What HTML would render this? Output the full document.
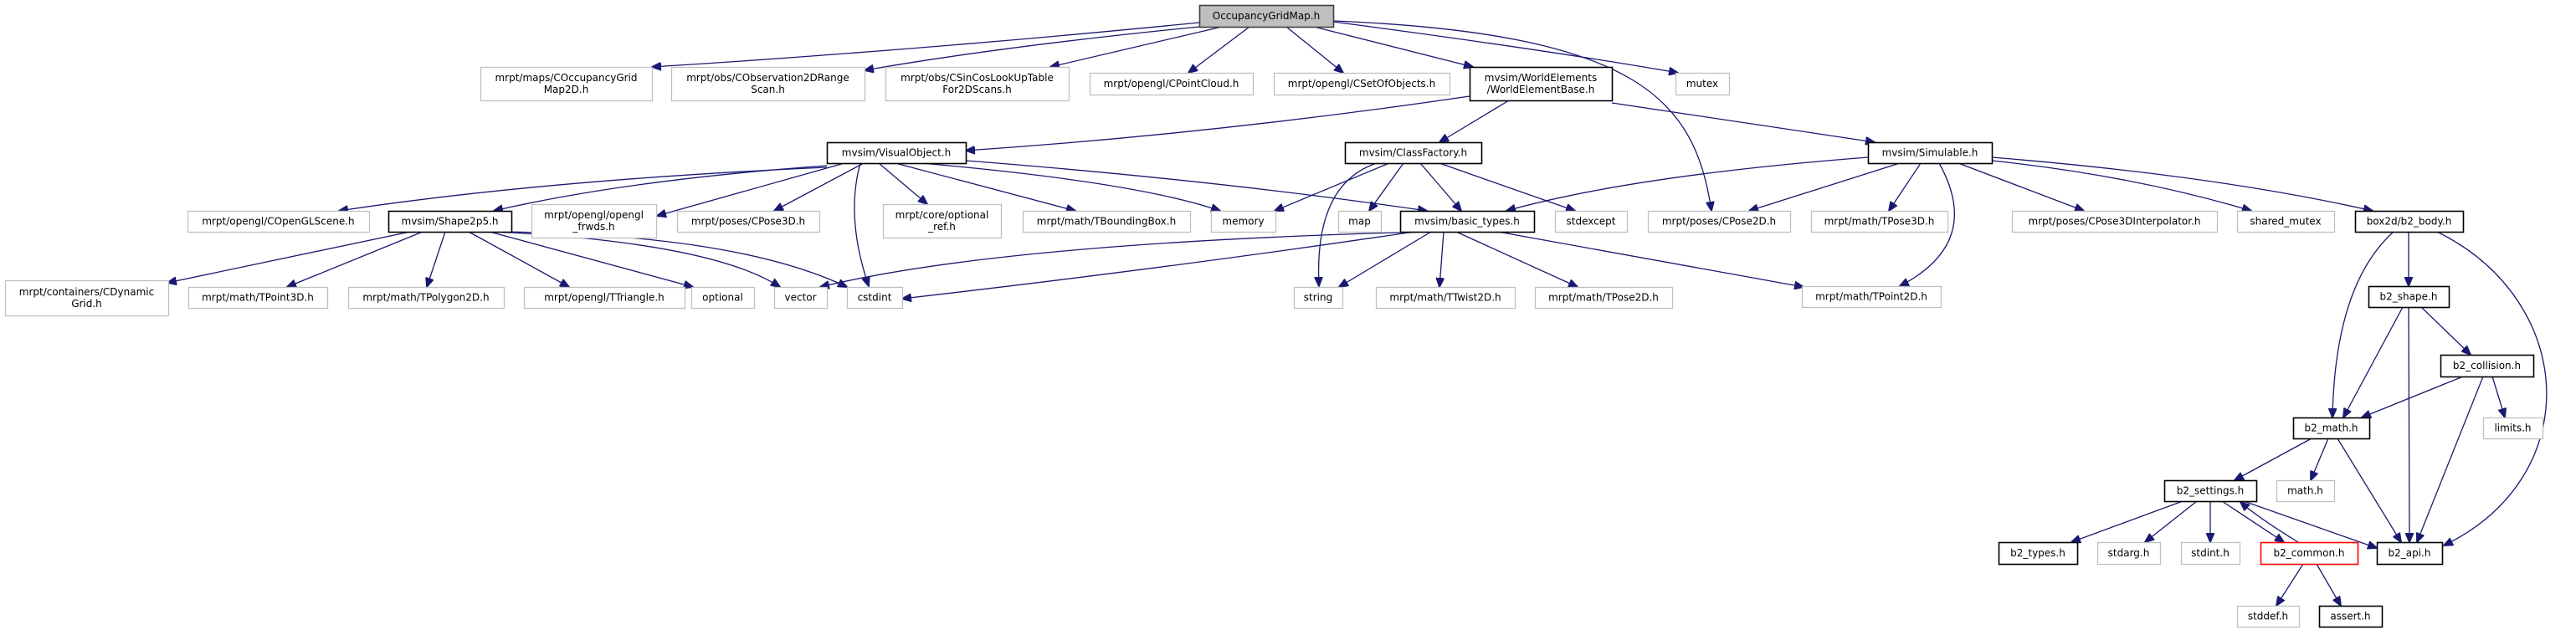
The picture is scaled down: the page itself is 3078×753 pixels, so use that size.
<!DOCTYPE html>
<html><head><meta charset="utf-8"><style>
html,body{margin:0;padding:0;background:#fff;width:3078px;height:753px;overflow:hidden}
svg{display:block}
text{font-family:"DejaVu Sans","Liberation Sans",sans-serif;font-size:12px;fill:#000}
</style></head><body>
<svg id="g" width="3078" height="753" xmlns="http://www.w3.org/2000/svg">
<defs><marker id="a" markerWidth="12" markerHeight="10" refX="11" refY="5" orient="auto" markerUnits="userSpaceOnUse"><path d="M0,0 L12,5 L0,10 z" fill="#191970" stroke="#191970"/></marker></defs>
</svg>
<script>
var N=[
[["OccupancyGridMap.h"],1433,6,1593,32,'f'],
[["mrpt/maps/COccupancyGrid","Map2D.h"],574,80,779,120,'g'],
[["mrpt/obs/CObservation2DRange","Scan.h"],802,80,1033,120,'g'],
[["mrpt/obs/CSinCosLookUpTable","For2DScans.h"],1058,80,1277,120,'g'],
[["mrpt/opengl/CPointCloud.h"],1302,87,1497,113,'g'],
[["mrpt/opengl/CSetOfObjects.h"],1522,87,1732,113,'g'],
[["mvsim/WorldElements","/WorldElementBase.h"],1756,80,1926,120,'b'],
[["mutex"],2002,87,2066,113,'g'],
[["mvsim/VisualObject.h"],988,170,1154,195,'b'],
[["mvsim/ClassFactory.h"],1607,170,1770,195,'b'],
[["mvsim/Simulable.h"],2232,170,2380,195,'b'],
[["mrpt/opengl/COpenGLScene.h"],224,252,441,277,'g'],
[["mvsim/Shape2p5.h"],464,252,611,277,'b'],
[["mrpt/opengl/opengl","_frwds.h"],635,244,784,284,'g'],
[["mrpt/poses/CPose3D.h"],809,252,979,277,'g'],
[["mrpt/core/optional","_ref.h"],1055,244,1196,284,'g'],
[["mrpt/math/TBoundingBox.h"],1222,252,1422,277,'g'],
[["memory"],1447,252,1524,277,'g'],
[["map"],1599,252,1650,277,'g'],
[["mvsim/basic_types.h"],1673,252,1833,277,'b'],
[["stdexcept"],1858,252,1944,277,'g'],
[["mrpt/poses/CPose2D.h"],1969,252,2139,277,'g'],
[["mrpt/math/TPose3D.h"],2164,252,2327,277,'g'],
[["mrpt/poses/CPose3DInterpolator.h"],2404,252,2649,277,'g'],
[["shared_mutex"],2673,252,2789,277,'g'],
[["box2d/b2_body.h"],2814,252,2943,277,'b'],
[["mrpt/containers/CDynamic","Grid.h"],6,335,201,377,'g'],
[["mrpt/math/TPoint3D.h"],225,343,391,368,'g'],
[["mrpt/math/TPolygon2D.h"],416,343,602,368,'g'],
[["mrpt/opengl/TTriangle.h"],626,343,818,368,'g'],
[["optional"],826,343,901,368,'g'],
[["vector"],925,343,988,368,'g'],
[["cstdint"],1012,343,1078,368,'g'],
[["string"],1546,343,1604,368,'g'],
[["mrpt/math/TTwist2D.h"],1644,343,1810,368,'g'],
[["mrpt/math/TPose2D.h"],1834,343,1998,368,'g'],
[["mrpt/math/TPoint2D.h"],2153,342,2319,367,'g'],
[["b2_shape.h"],2830,342,2926,367,'b'],
[["b2_collision.h"],2916,424,3027,450,'b'],
[["b2_math.h"],2740,499,2831,524,'b'],
[["limits.h"],2967,499,3038,524,'g'],
[["b2_settings.h"],2586,574,2696,599,'b'],
[["math.h"],2720,574,2789,599,'g'],
[["b2_types.h"],2388,648,2482,674,'b'],
[["stdarg.h"],2506,648,2581,674,'g'],
[["stdint.h"],2606,648,2676,674,'g'],
[["b2_common.h"],2701,648,2817,674,'r'],
[["b2_api.h"],2840,648,2918,674,'b'],
[["stddef.h"],2673,724,2747,749,'g'],
[["assert.h"],2771,724,2846,749,'b']
];
var E=[
[1433,27,779,80,1100,60],[1433,32,1033,84,1200,55],[1460,32,1255,80],[1493,32,1420,87],[1537,32,1605,87],[1570,32,1760,80],
[1593,26,2005,87,1850,60],[1593,25,2045,252,1960,40,2025,120],
[1756,115,1154,180,1450,160],[1803,120,1720,170],[1926,123,2240,170],
[988,200,405,252,650,215],[988,198,590,252,750,215],[1009,195,785,258],[1032,195,925,252],[1028,195,1038,342,1010,260],
[1050,195,1108,244],[1070,195,1285,252],[1065,192,1458,252,1350,215],[1154,192,1705,252,1450,215],
[1660,195,1523,252],[1645,195,1576,342,1570,220],[1677,195,1636,252],[1697,195,1746,252],[1720,195,1882,252],
[2232,188,1800,252,1950,210],[2270,195,2090,252],[2295,195,2257,252],[2340,195,2490,252],[2380,192,2690,252,2550,210],[2380,188,2835,252,2650,210],
[2317,195,2270,342,2370,290],
[490,277,200,338],[505,277,343,343],[532,277,510,343],[560,277,680,343],[585,277,828,343],[592,277,932,343,850,290],[597,277,1012,343,880,280],
[1705,277,980,343,1200,290],[1690,277,1078,357,1400,320],[1710,277,1600,343],[1725,277,1720,343],[1740,277,1885,343],[1790,277,2155,343],
[2860,277,2787,499,2790,340],[2878,277,2878,342],[2912,277,2920,652,3080,360,3090,570],
[2871,367,2800,499],[2878,367,2879,648],[2893,367,2952,424],
[2943,450,2822,499],[2967,450,2888,648],[2978,450,2993,499],
[2762,524,2670,574],[2782,524,2761,574],[2793,524,2869,648],
[2608,599,2475,648],[2625,599,2563,648],[2641,599,2641,648],[2655,599,2729,648],[2681,599,2840,655],
[2746,648,2677,600,2700,620],[2752,674,2720,724],[2768,674,2797,724]
];
var s=document.getElementById('g'),ns='http://www.w3.org/2000/svg';
function el(t,a){var e=document.createElementNS(ns,t);for(var k in a)e.setAttribute(k,a[k]);s.appendChild(e);return e;}
E.forEach(function(e){var d;
if(e.length>6)d='M'+e[0]+','+e[1]+' C'+e[4]+','+e[5]+' '+e[6]+','+e[7]+' '+e[2]+','+e[3];
else if(e.length>4)d='M'+e[0]+','+e[1]+' Q'+e[4]+','+e[5]+' '+e[2]+','+e[3];
else d='M'+e[0]+','+e[1]+' L'+e[2]+','+e[3];
el('path',{d:d,fill:'none',stroke:'#191970','stroke-width':1.3,'marker-end':'url(#a)'});});
N.forEach(function(n){var c={g:'#bfbfbf',b:'#000',r:'#ff0000',f:'#404040'}[n[5]];
el('rect',{x:n[1]+.5,y:n[2]+.5,width:n[3]-n[1],height:n[4]-n[2],fill:n[5]=='f'?'#bfbfbf':'#fff',stroke:c,'stroke-width':n[5]=='g'?1.3:1.6});
var cx=(n[1]+n[3])/2,cy=(n[2]+n[4])/2,L=n[0];
L.forEach(function(t,i){var tx=el('text',{x:cx,y:cy+4+(i-(L.length-1)/2)*14,'text-anchor':'middle'});tx.textContent=t;});});
</script>
</body></html>
